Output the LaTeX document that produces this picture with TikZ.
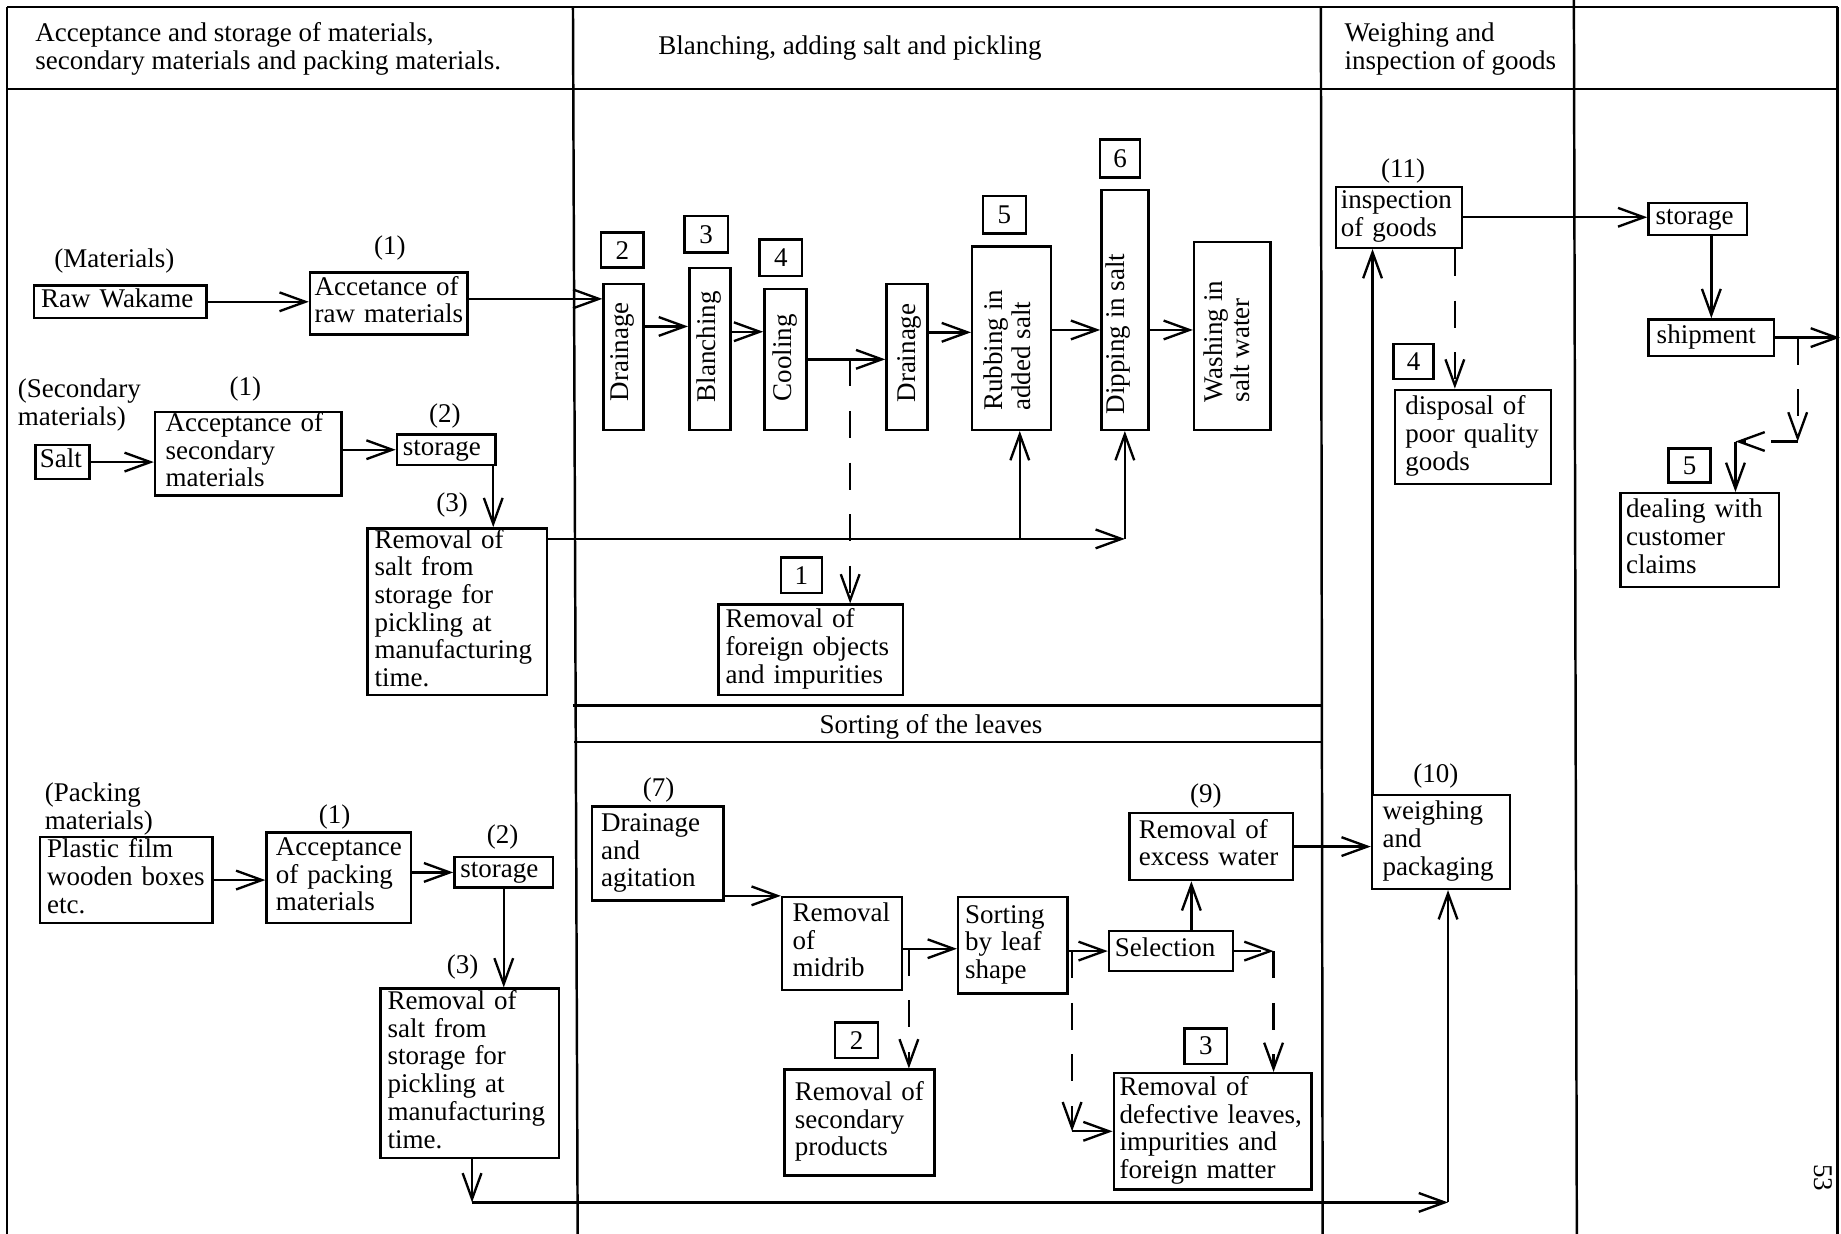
\documentclass[tikz,border=0pt]{standalone}
\usepackage{fontspec}
\setmainfont{Liberation Serif}
\usetikzlibrary{arrows.meta,calc}
\newcommand\mylines[1]{\begin{tabular}{@{}l@{}}#1\end{tabular}}
\begin{document}
\begin{tikzpicture}[x=1pt,y=-1pt,
  every node/.style={font=\fontsize{23}{23.6}\selectfont, inner sep=0pt},
  bx/.style={draw, line width=2.1pt, rectangle, anchor=north west, inner ysep=0pt, align=left},
  vb/.style={draw, line width=2.1pt, rectangle, anchor=north west, inner sep=0pt},
  vt/.style={rotate=90, anchor=west, inner sep=0pt},
  nb/.style={draw, line width=2.1pt, inner sep=0pt},
  arr/.style={line width=2pt, -{Straight Barb[length=22pt,width=16pt]}},
  dsh/.style={dash pattern=on 23pt off 21pt},
  frm/.style={line width=2.1pt}]
\useasboundingbox (0,0) rectangle (1568,1051);

% ---------- frame ----------
\draw[frm] (6,6) -- (1565,6);
\draw[frm] (6,76) -- (1565,76);
\draw[frm] (6,6) -- (6,1051);
\draw[frm] (488,6) -- (492,1051);
\draw[frm] (488,601) -- (1125,601);
\draw[frm] (489,632) -- (1125,632);
\draw[frm] (1125,6) -- (1126.5,1051);
\draw[frm] (1340.5,0) -- (1343,1051);
\draw[frm] (1565,6) -- (1565,1051);

% ---------- headers ----------
\node[anchor=west] (h1) at (30,42.5) {\mylines{Acceptance and storage of materials,\\secondary materials and packing materials.}};
\node (h2) at (724,41) {Blanching, adding salt and pickling};
\node[anchor=west] (h3) at (1145,42.5) {\mylines{Weighing and\\inspection of goods}};
\node (sortt) at (793,619) {Sorting of the leaves};

% ---------- left column ----------
\node (l1) at (97.5,222) {(Materials)};
\node[bx, inner xsep=6pt, text width=135pt, minimum height=28pt] (raw) at (28,242) {\mylines{Raw Wakame}};
\node (l2) at (332,211) {(1)};
\node[bx, inner xsep=4pt, text width=126pt, minimum height=53pt] (accr) at (263,231) {\mylines{Accetance of\\raw materials}};

\node[anchor=west] (l3) at (15,345.5) {\mylines{(Secondary\\materials)}};
\node (l4) at (209,331) {(1)};
\node[bx, inner xsep=4pt, text width=38pt, minimum height=29pt] (salt) at (29,378) {\mylines{Salt}};
\node[bx, inner xsep=9pt, text width=141pt, minimum height=70pt] (accs) at (131,350) {\mylines{Acceptance of\\secondary\\materials}};
\node (l5) at (379,354) {(2)};
\node[bx, inner xsep=5pt, text width=74pt, minimum height=26pt] (stor1) at (337,369) {\mylines{storage}};
\node (l6) at (385,430) {(3)};
\node[bx, inner xsep=6pt, text width=141pt, minimum height=142pt] (rem1) at (312,449) {\mylines{Removal of\\salt from\\storage for\\pickling at\\manufacturing\\time.}};

\node[anchor=west] (l7) at (38,690) {\mylines{(Packing\\materials)}};
\node[bx, inner xsep=6pt, text width=135pt, minimum height=73pt] (plast) at (33,712) {\mylines{Plastic film\\wooden boxes\\etc.}};
\node (l8) at (285,696) {(1)};
\node[bx, inner xsep=8pt, text width=107pt, minimum height=77pt] (accp) at (226,708) {\mylines{Acceptance\\of packing\\materials}};
\node (l9) at (428,713) {(2)};
\node[bx, inner xsep=5pt, text width=74pt, minimum height=26pt] (stor2) at (386,729) {\mylines{storage}};
\node (l10) at (394,824) {(3)};
\node[bx, inner xsep=6pt, text width=140pt, minimum height=144pt] (rem2) at (323,841) {\mylines{Removal of\\salt from\\storage for\\pickling at\\manufacturing\\time.}};

% ---------- blanching column ----------
\node[nb, minimum width=36pt, minimum height=30pt] (n2) at (530,213) {2};
\node[vb, minimum width=34pt, minimum height=124pt] (drain1) at (513,241) {};
\node[vt] (drain1t) at (530,342) {Drainage};
\node[nb, minimum width=37pt, minimum height=31pt] (n3) at (601.5,199.5) {3};
\node[vb, minimum width=35pt, minimum height=138pt] (blanch) at (586,227) {};
\node[vt] (blancht) at (604,343) {Blanching};
\node[nb, minimum width=36pt, minimum height=31pt] (n4) at (665,219.5) {4};
\node[vb, minimum width=36pt, minimum height=120pt] (cool) at (650,245) {};
\node[vt] (coolt) at (669,342) {Cooling};
\node[vb, minimum width=35pt, minimum height=124pt] (drain2) at (754,241) {};
\node[vt] (drain2t) at (775,343) {Drainage};
\node[nb, minimum width=37pt, minimum height=32pt] (n5) at (855.5,183) {5};
\node[vb, minimum width=67pt, minimum height=156pt] (rub) at (827,209) {};
\node[vt] (rubt) at (861,350) {\mylines{Rubbing in\\added salt}};
\node[nb, minimum width=34pt, minimum height=32pt] (n6) at (954,135) {6};
\node[vb, minimum width=40pt, minimum height=204pt] (dip) at (937,161) {};
\node[vt] (dipt) at (952,353) {Dipping in salt};
\node[vb, minimum width=65pt, minimum height=160pt] (wash) at (1016,205) {};
\node[vt] (washt) at (1048,343) {\mylines{Washing in\\salt water}};
\node[nb, minimum width=35pt, minimum height=30pt] (n1) at (682.5,490) {1};
\node[bx, inner xsep=6pt, text width=145pt, minimum height=77pt] (foreign) at (611,514) {\mylines{Removal of\\foreign objects\\and impurities}};

% ---------- sorting section ----------
\node (l11) at (561,673) {(7)};
\node[bx, inner xsep=8pt, text width=96pt, minimum height=80pt] (dagit) at (503,686) {\mylines{Drainage\\and\\agitation}};
\node[bx, inner xsep=9pt, text width=84pt, minimum height=79pt] (midrib) at (665,763) {\mylines{Removal\\of\\midrib}};
\node[bx, inner xsep=6pt, text width=81pt, minimum height=82pt] (sortleaf) at (815,763) {\mylines{Sorting\\by leaf\\shape}};
\node[bx, inner xsep=5pt, text width=95.5pt, minimum height=34pt] (sel) at (943.5,792) {\mylines{Selection}};
\node (l12) at (1027,678) {(9)};
\node[bx, inner xsep=8pt, text width=123pt, minimum height=57pt] (excess) at (961,691.5) {\mylines{Removal of\\excess water}};
\node[nb, minimum width=37pt, minimum height=30pt] (nn2) at (729.5,886) {2};
\node[bx, inner xsep=9pt, text width=110pt, minimum height=90pt] (secprod) at (667,910) {\mylines{Removal of\\secondary\\products}};
\node[nb, minimum width=36pt, minimum height=30pt] (nn3) at (1027,891) {3};
\node[bx, inner xsep=5pt, text width=158.4pt, minimum height=99pt] (defect) at (947.6,913) {\mylines{Removal of\\defective leaves,\\impurities and\\foreign matter}};

% ---------- weighing column ----------
\node (l14) at (1195,146) {(11)};
\node[bx, inner xsep=4pt, text width=99pt, minimum height=52pt] (insp) at (1137,158) {\mylines{inspection\\of goods}};
\node[nb, minimum width=34pt, minimum height=30pt] (nn4) at (1204,308) {4};
\node[bx, inner xsep=9pt, text width=115pt, minimum height=80pt] (disp) at (1187,331) {\mylines{disposal of\\poor quality\\goods}};
\node (l13) at (1223,661) {(10)};
\node[bx, inner xsep=9pt, text width=99.5pt, minimum height=80pt] (weigh) at (1167.5,676) {\mylines{weighing\\and\\packaging}};

% ---------- last column ----------
\node[bx, inner xsep=6pt, text width=72pt, minimum height=27pt] (stor3) at (1403,172) {\mylines{storage}};
\node[bx, inner xsep=7pt, text width=93pt, minimum height=31pt] (ship) at (1403,271) {\mylines{shipment}};
\node[nb, minimum width=36pt, minimum height=29pt] (nn5) at (1439,396.5) {5};
\node[bx, inner xsep=5pt, text width=125pt, minimum height=80pt] (claims) at (1379,419) {\mylines{dealing with\\customer\\claims}};
\node[rotate=-90] (pg) at (1553,1003) {53};

% ---------- connectors: left column ----------
\draw[arr] (raw.east) -- (raw.east -| accr.west);
\coordinate (a1) at ($(accr.east)+(0,-4)$);
\draw[arr] (a1) -- (a1 -| drain1.west);
\draw[arr] (salt.east) -- (salt.east -| accs.west);
\draw[arr] (stor1.west -| accs.east) -- (stor1.west);
\coordinate (s9) at ($(stor1.south east)+(-3,0)$);
\draw[arr] (s9) -- (s9 |- rem1.north);
\coordinate (s0) at ($(rem1.north east)+(0,10)$);
\coordinate (s1) at (s0 -| dip.south);
\coordinate (s2) at ($(s0 -| rub.south)+(7,0)$);
\draw[arr] (s0) -- (s1);
\draw[arr] (s1) -- (dip.south);
\draw[arr] (s2) -- (s2 |- rub.south);

\draw[arr] (plast.east) -- (plast.east -| accp.west);
\draw[arr] (stor2.west -| accp.east) -- (stor2.west);
\draw[arr] (stor2.south) -- (stor2.south |- rem2.north);
\coordinate (k0) at ($(rem2.south)+(2,0)$);
\coordinate (k1) at ($(k0)+(0,37)$);
\coordinate (k2) at ($(weigh.south)+(6,0)$);
\coordinate (k3) at (k2 |- k1);
\draw[arr] (k0) -- (k1);
\draw[arr] (k1) -- (k3);
\draw[arr] (k3) -- (k2);

% ---------- connectors: blanching ----------
\coordinate (d1) at ($(drain1.east)+(0,-26)$);
\draw[arr] (d1) -- (d1 -| blanch.west);
\coordinate (b1) at ($(blanch.east)+(0,-14.5)$);
\draw[arr] (b1) -- (b1 -| cool.west);
\draw[arr] (cool.east) -- (cool.east -| drain2.west);
\coordinate (cj) at ($(cool.east)+(36,0)$);
\draw[arr,dsh] (cj) -- (cj |- foreign.north);
\coordinate (r1) at ($(drain2.east)+(0,-21)$);
\draw[arr] (r1) -- (r1 -| rub.west);
\coordinate (r2) at ($(rub.east)+(0,-7)$);
\draw[arr] (r2) -- (r2 -| dip.west);
\coordinate (r3) at ($(dip.east)+(0,17)$);
\draw[arr] (r3) -- (r3 -| wash.west);

% ---------- connectors: sorting ----------
\draw[arr] (dagit.south east |- midrib.north west) -- (midrib.north west);
\coordinate (m1) at ($(midrib.east)+(0,4.5)$);
\draw[arr] (m1) -- (m1 -| sortleaf.west);
\coordinate (m2) at ($(m1)+(5,0)$);
\draw[arr,dsh] (m2) -- (m2 |- secprod.north);
\draw[arr] (sel.west -| sortleaf.east) -- (sel.west);
\coordinate (q1) at ($(sel.west -| sortleaf.east)+(3,0)$);
\coordinate (q2) at (q1 |- defect.west);
\draw[arr,dsh] (q1) -- (q2);
\draw[arr] (q2) -- (defect.west);
\coordinate (e1) at ($(sel.north)+(17.4,0)$);
\draw[arr] (e1) -- (e1 |- excess.south);
\coordinate (e2) at ($(sel.east)+(33.6,0)$);
\draw[arr,dsh] (sel.east) -- (e2);
\draw[arr,dsh] (e2) -- (e2 |- defect.north);
\draw[arr] (excess.east) -- (excess.east -| weigh.west);

% ---------- connectors: weighing / shipment ----------
\coordinate (w1) at ($(weigh.north west)+(1.5,0)$);
\draw[arr] (w1) -- (w1 |- insp.south);
\coordinate (i1) at ($(insp.south east)+(-7,0)$);
\draw[arr,dsh] (i1) -- (i1 |- disp.north);
\draw[arr] (insp.east) -- (insp.east -| stor3.west);
\draw[arr] (ship.north |- stor3.south) -- (ship.north);
\coordinate (shipend) at ($(ship.east)+(55,0)$);
\draw[arr] (ship.east) -- (shipend);
\coordinate (t1) at ($(ship.east)+(19,0)$);
\coordinate (t2) at ($(t1)+(0,88.5)$);
\coordinate (t3) at ($(t2)+(-53,0)$);
\draw[arr,dsh] (t1) -- (t2);
\draw[arr,dsh] (t2) -- (t3);
\draw[arr] (t3) -- (t3 |- claims.north);
\end{tikzpicture}
\end{document}
